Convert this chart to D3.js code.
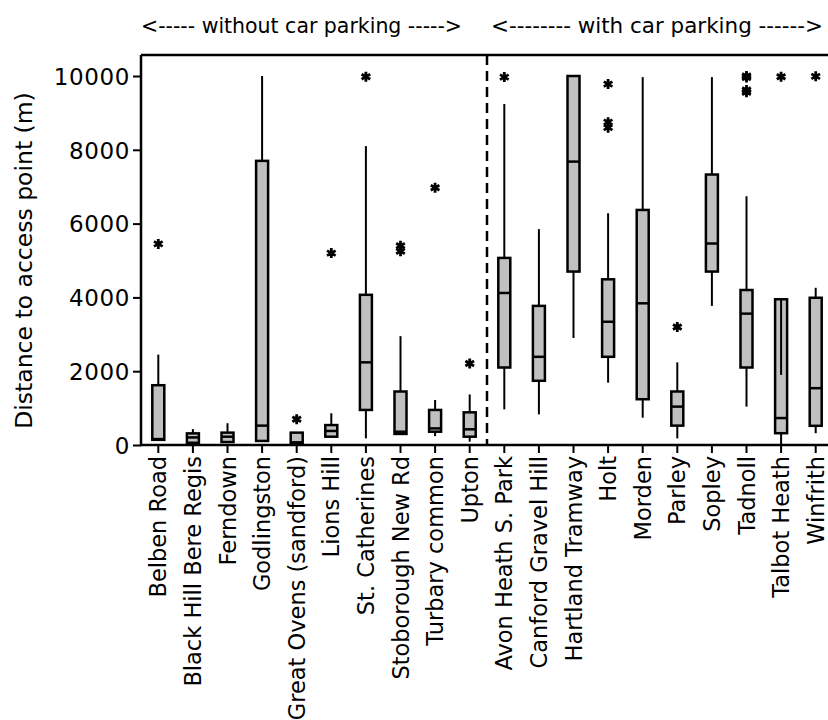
<!DOCTYPE html>
<html>
<head>
<meta charset="utf-8">
<script src="https://cdn.jsdelivr.net/npm/d3@7"></script>
<style>
  html, body { margin: 0; padding: 0; background: #fff; }
  svg text { font-family: "DejaVu Sans", Verdana, sans-serif; fill: #000; }
</style>
</head>
<body>
<svg id="chart" width="828" height="720"></svg>
<script>
// Sites, grouped: first ten have no car parking, the rest have parking
const categories = [
  "Belben Road", "Black Hill Bere Regis", "Ferndown", "Godlingston",
  "Great Ovens (sandford)", "Lions Hill", "St. Catherines", "Stoborough New Rd",
  "Turbary common", "Upton", "Avon Heath S. Park", "Canford Gravel Hill",
  "Hartland Tramway", "Holt", "Morden", "Parley", "Sopley", "Tadnoll",
  "Talbot Heath", "Winfrith"
];
const groupSplit = 10;

// Distances to access point (m)
const whiskerLow  = [140,   50,  70,  100,  50, 200,  180,  290,  240,   90,  965,  830, 2900, 1690,  740,  180, 3770, 1040,    0,  320];
const q1          = [140,   60,  80,  110,  60, 225,  950,  300,  360,  225, 2100, 1740, 4700, 2390, 1240,  525, 4700, 2100,  320,  520];
const median      = [160,  205, 225,  525,  70, 380, 2240,  360,  450,  425, 4120, 2390, 7680, 3340, 3840, 1040, 5460, 3560,  730, 1540];
const q3          = [1620, 315, 335, 7700, 335, 540, 4070, 1450,  950,  885, 5070, 3770, 10000, 4490, 6370, 1450, 7330, 4200, 3950, 3990];
const whiskerHigh = [2450, 430, 590, 10000, 340, 860, 8100, 2950, 1220, 1370, 9240, 5850, 10000, 6280, 9970, 2240, 9970, 6740, 3950, 4260];
const outliers = [
  [5450], [], [], [], [700], [5200], [9980], [5250, 5400], [6970], [2210],
  [9970], [], [], [9780, 8750, 8600], [], [3200], [], [10000, 9960, 9620, 9560],
  [9980], [9990]
];
// Extra segment drawn inside the Talbot Heath box
const innerSegment = { site: "Talbot Heath", from: 3950, to: 1900 };

const yTicks = [0, 2000, 4000, 6000, 8000, 10000];
const groupLabels = ["<----- without car parking ----->", "<-------- with car parking ------>"];

const svg = d3.select("#chart");
const plotTop = 55, plotBottom = 445, plotLeft = 141, plotRight = 833;

const x = d3.scaleBand().domain(categories).range([plotLeft, plotRight]);
const y = d3.scaleLinear().domain([0, 10000]).range([plotBottom, 76]);
const boxW = 12;

// frame: top line
svg.append("line")
  .attr("x1", plotLeft).attr("x2", 828).attr("y1", plotTop).attr("y2", plotTop)
  .attr("stroke", "#000").attr("stroke-width", 2.5);

// y axis
const yAxis = svg.append("g").attr("transform", `translate(${plotLeft},0)`)
  .call(d3.axisLeft(y).tickValues(yTicks).tickFormat(d3.format("d")).tickSize(8).tickPadding(3));
yAxis.select(".domain").remove();
yAxis.selectAll(".tick line").attr("stroke", "#000").attr("stroke-width", 2);
yAxis.selectAll(".tick text").style("font-size", "23px").style("letter-spacing", "0.6px").attr("dy", "0.36em");
svg.append("line")
  .attr("x1", plotLeft).attr("x2", plotLeft).attr("y1", plotTop).attr("y2", plotBottom)
  .attr("stroke", "#000").attr("stroke-width", 2.5);

// x axis
const xAxis = svg.append("g").attr("transform", `translate(0,${plotBottom})`)
  .call(d3.axisBottom(x).tickSize(8).tickSizeOuter(0));
xAxis.select(".domain").remove();
xAxis.selectAll(".tick line").attr("stroke", "#000").attr("stroke-width", 2);
xAxis.selectAll(".tick text")
  .style("font-size", "22.5px")
  .attr("text-anchor", "end")
  .attr("transform", "rotate(-90)")
  .attr("x", -11).attr("y", 0).attr("dy", "0.36em");
svg.append("line")
  .attr("x1", plotLeft - 1).attr("x2", 828).attr("y1", plotBottom).attr("y2", plotBottom)
  .attr("stroke", "#000").attr("stroke-width", 2.5);

// y axis title
svg.append("text")
  .attr("transform", `translate(32,${(76 + plotBottom) / 2}) rotate(-90)`)
  .attr("text-anchor", "middle")
  .style("font-size", "23.5px")
  .text("Distance to access point (m)");

// group divider
const splitX = (x(categories[groupSplit - 1]) + x.bandwidth() + x(categories[groupSplit])) / 2;
svg.append("line")
  .attr("x1", splitX).attr("x2", splitX).attr("y1", plotTop).attr("y2", plotBottom)
  .attr("stroke", "#000").attr("stroke-width", 2.5).attr("stroke-dasharray", "10,6");

// group labels
svg.append("text").attr("x", 141).attr("y", 33)
  .style("font-size", "21px").style("font-family", "'DejaVu Sans Condensed', 'DejaVu Sans', sans-serif")
  .attr("textLength", 321).attr("lengthAdjust", "spacingAndGlyphs")
  .text(groupLabels[0]);
svg.append("text").attr("x", 491).attr("y", 33)
  .style("font-size", "21px").style("font-family", "'DejaVu Sans Condensed', 'DejaVu Sans', sans-serif")
  .attr("textLength", 332).attr("lengthAdjust", "spacingAndGlyphs")
  .text(groupLabels[1]);

// boxes
const boxes = svg.append("g");
const sym = d3.symbol().type(d3.symbolAsterisk).size(70);
categories.forEach((c, i) => {
  const cx = x(c) + x.bandwidth() / 2;
  const g = boxes.append("g");
  // whiskers
  g.append("line").attr("x1", cx).attr("x2", cx)
    .attr("y1", y(q3[i])).attr("y2", y(whiskerHigh[i]))
    .attr("stroke", "#000").attr("stroke-width", 2);
  g.append("line").attr("x1", cx).attr("x2", cx)
    .attr("y1", y(q1[i])).attr("y2", y(whiskerLow[i]))
    .attr("stroke", "#000").attr("stroke-width", 2);
  // box
  g.append("rect")
    .attr("x", cx - boxW / 2).attr("width", boxW)
    .attr("y", y(q3[i])).attr("height", y(q1[i]) - y(q3[i]))
    .attr("fill", "#c0c0c0").attr("stroke", "#000").attr("stroke-width", 2.5);
  // median
  g.append("line")
    .attr("x1", cx - boxW / 2).attr("x2", cx + boxW / 2)
    .attr("y1", y(median[i])).attr("y2", y(median[i]))
    .attr("stroke", "#000").attr("stroke-width", 2.5);
  if (c === innerSegment.site) {
    g.append("line").attr("x1", cx).attr("x2", cx)
      .attr("y1", y(innerSegment.from)).attr("y2", y(innerSegment.to))
      .attr("stroke", "#000").attr("stroke-width", 2);
  }
  // outliers
  outliers[i].forEach(v => {
    g.append("path")
      .attr("d", sym())
      .attr("transform", `translate(${cx},${y(v)})`)
      .attr("fill", "none").attr("stroke", "#000").attr("stroke-width", 2.8);
  });
});
</script>
</body>
</html>
